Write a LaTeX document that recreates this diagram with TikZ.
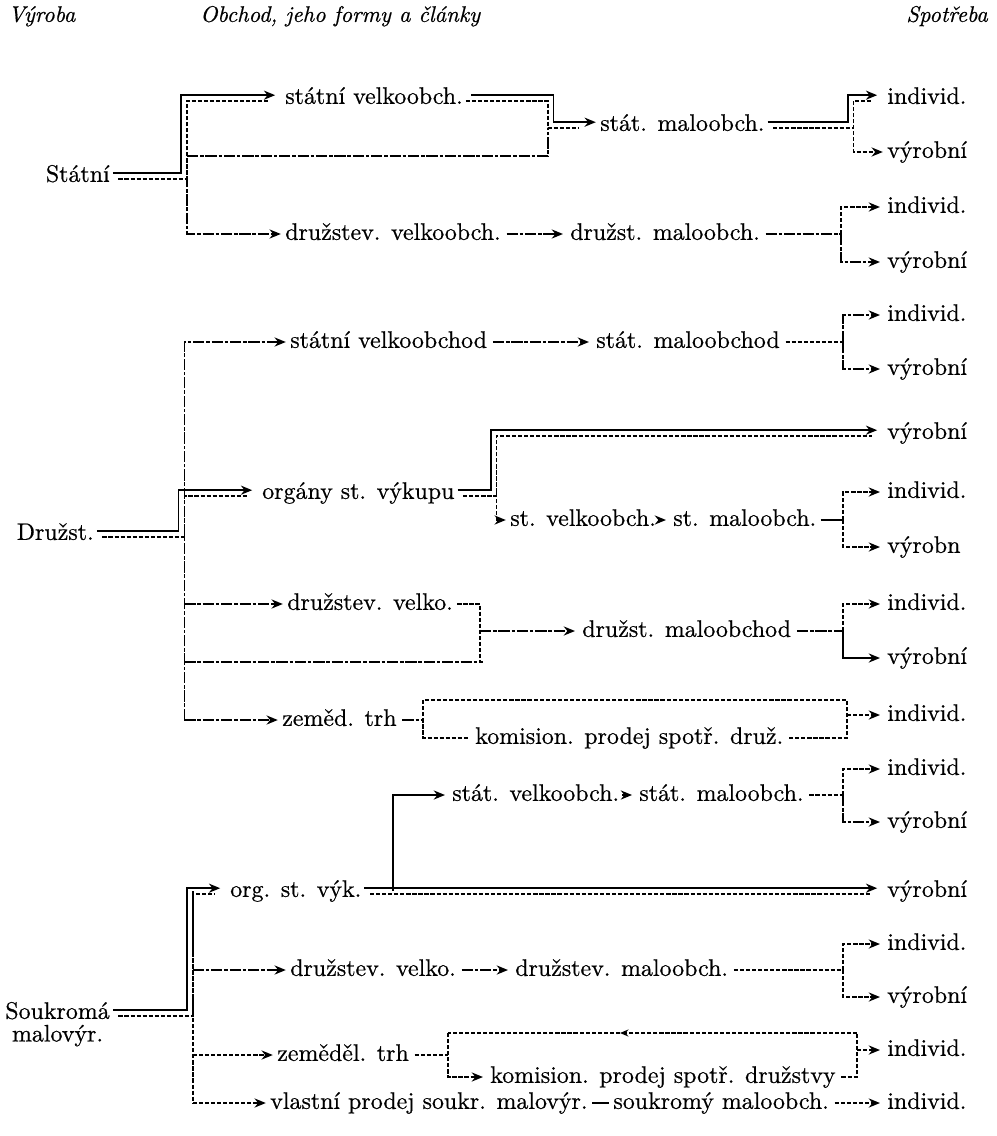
\documentclass[tikz,border=0pt]{standalone}
\usepackage{fontspec}
\usetikzlibrary{positioning,arrows.meta}
\newfontfamily\tiskPismo{lmroman10-regular.otf}[FakeBold=0.6]
\newfontfamily\tiskKurziva{lmroman10-italic.otf}[FakeBold=0.6]

\tikzset{
  txt/.style={inner sep=0pt, anchor=west, text height=12pt, text depth=3.7pt, font=\tiskPismo\fontsize{17}{20}\selectfont},
  hlav/.style={txt, font=\tiskKurziva\fontsize{16}{19}\selectfont},
  plna/.style={line width=1.15pt},
  carky/.style={line width=1.15pt, dash pattern=on 3pt off 1.3pt},
  smes/.style={line width=1.15pt, dash pattern=on 8pt off 1.3pt on 2.5pt off 1.3pt},
  sip/.style={-{Stealth[length=8pt,width=6.5pt]}, shorten >=5pt},
  konecDvoj/.style={shorten >=13pt},
  outerUp/.style={transform canvas={xshift=-2pt,yshift=2pt}},
  innerUp/.style={transform canvas={xshift=2pt,yshift=-2pt}},
  outerDown/.style={transform canvas={xshift=2pt,yshift=2pt}},
  innerDown/.style={transform canvas={xshift=-2pt,yshift=-2pt}},
  innerOnly/.style={transform canvas={xshift=2pt}},
}

\begin{document}
\begin{tikzpicture}[x=0.025cm,y=-0.025cm]
\useasboundingbox (0,0) rectangle (996,1136);
%% headings
\node[hlav] (hVyroba) at (8,16) {Výroba};
\node[hlav] (hObchod) at (200,16) {Obchod, jeho formy a články};
\node[hlav,anchor=east] (hSpotreba) at (988,16) {Spotřeba};

%% consumption column
\node[txt] (spot1) at (887,98) {individ.};
\node[txt] (spot2) at (887,152) {výrobní};
\node[txt] (spot3) at (887,207) {individ.};
\node[txt] (spot4) at (887,262) {výrobní};
\node[txt] (spot5) at (887,315) {individ.};
\node[txt] (spot6) at (887,369) {výrobní};
\node[txt] (spot7) at (887,433) {výrobní};
\node[txt] (spot8) at (887,492) {individ.};
\node[txt] (spot9) at (887,547) {výrobn};
\node[txt] (spot10) at (887,604) {individ.};
\node[txt] (spot11) at (887,658) {výrobní};
\node[txt] (spot12) at (887,715) {individ.};
\node[txt] (spot13) at (887,769) {individ.};
\node[txt] (spot14) at (887,822) {výrobní};
\node[txt] (spot15) at (887,891) {výrobní};
\node[txt] (spot16) at (887,944) {individ.};
\node[txt] (spot17) at (887,997) {výrobní};
\node[txt] (spot18) at (887,1050) {individ.};
\node[txt] (spot19) at (887,1103) {individ.};

%% Statni
\node[txt,anchor=east] (vyrStatni) at (110,176) {Státní};
\node[txt] (stVelko) at (285,98) {státní velkoobch.};
\node[txt] (stMalo) at (600,125) {stát. maloobch.};
\node[txt] (drVelko) at (285,234) {družstev. velkoobch.};
\node[txt] (drMalo) at (570,234) {družst. maloobch.};
\coordinate (xStatni) at (184,0);
\coordinate (xBox) at (550.5,0);
\coordinate (xStRight) at (850.5,0);
\coordinate (xDrRight) at (841,0);
\coordinate (cBypassL) at (187,156);
\coordinate (cBypassT) at (548,128);

%% Druzst
\node[txt,anchor=east] (vyrDruzst) at (94,534) {Družst.};
\node[txt] (stVelkoD) at (290,342) {státní velkoobchod};
\node[txt] (stMaloD) at (596,342) {stát. maloobchod};
\node[txt] (organy) at (262,493) {orgány st. výkupu};
\node[txt] (stVelkoK) at (510,520) {st. velkoobch.};
\node[txt,right=12pt of stVelkoK] (stMaloK) {st. maloobch.};
\node[txt] (drVelkoD) at (287,604) {družstev. velko.};
\node[txt] (drMaloD) at (582,631) {družst. maloobchod};
\node[txt] (zemTrh) at (282,720) {zeměd. trh};
\node[txt] (komis) at (475,738) {komision. prodej spotř. druž.};
\coordinate (xDruzst) at (181.5,0);
\coordinate (xOrgany) at (493.5,0);
\coordinate (xRight) at (843,0);
\coordinate (cDrDole) at (480,662);
\coordinate (cZemL) at (423,700);
\coordinate (cZemR) at (847,700);

%% Soukroma
\node[txt,anchor=east] (vyrSoukr) at (110,1013) {Soukromá};
\node[txt,anchor=north] (vyrSoukrB) at (vyrSoukr.south) {malovýr.};
\node[txt] (orgS) at (230,891) {org. st. výk.};
\node[txt] (stVelkoS) at (452,795) {stát. velkoobch.};
\node[txt,right=14pt of stVelkoS] (stMaloS) {stát. maloobch.};
\node[txt] (drVelkoS) at (290,970) {družstev. velko.};
\node[txt] (drMaloS) at (515,970) {družstev. maloobch.};
\node[txt] (zemTrhS) at (277,1055) {zeměděl. trh};
\node[txt] (komisS) at (490,1077) {komision. prodej spotř. družstvy};
\node[txt] (vlastni) at (270,1103) {vlastní prodej soukr. malovýr.};
\node[txt,right=18pt of vlastni] (soukMalo) {soukromý maloobch.};
\coordinate (xSoukr) at (190,0);
\coordinate (xOrgS) at (393,0);
\coordinate (cZem3L) at (448,1033);
\coordinate (cZem3R) at (857,1033);
\coordinate (cZem3Sip) at (620,1033);

%% lines - Statni
\draw[plna,outerUp,sip,shorten <=4pt] (vyrStatni.east) -| (xStatni |- stVelko) -- (stVelko.west);
\draw[carky,innerUp,konecDvoj,shorten <=4pt] (vyrStatni.east) -| (xStatni |- stVelko) -- (stVelko.west);
\draw[smes,innerOnly,sip] (xStatni |- vyrStatni) |- (drVelko.west);
\draw[smes] (cBypassL) -| (cBypassT);
\draw[plna,outerDown,sip,shorten <=4pt] (stVelko.east) -| (xBox |- stMalo) -- (stMalo.west);
\draw[carky,innerDown,konecDvoj,shorten <=4pt] (stVelko.east) -| (xBox |- stMalo) -- (stMalo.west);
\draw[plna,outerUp,sip,shorten <=4pt] (stMalo.east) -| (xStRight |- spot1) -- (spot1.west);
\draw[carky,innerUp,konecDvoj,shorten <=4pt] (stMalo.east) -| (xStRight |- spot1) -- (spot1.west);
\draw[carky,innerOnly,sip] (xStRight |- stMalo) |- (spot2.west);
\draw[smes,sip,shorten <=4pt] (drVelko) -- (drMalo);
\draw[smes,shorten <=4pt] (drMalo.east) -- (xDrRight |- drMalo);
\draw[carky,sip] (xDrRight |- drMalo) |- (spot3.west);
\draw[smes,sip] (xDrRight |- drMalo) |- (spot4.west);

%% lines - Druzst
\draw[plna,outerUp,sip,shorten <=4pt] (vyrDruzst.east) -| (xDruzst |- organy) -- (organy.west);
\draw[carky,innerUp,konecDvoj,shorten <=4pt] (vyrDruzst.east) -| (xDruzst |- organy) -- (organy.west);
\draw[smes,innerOnly,sip] (xDruzst |- zemTrh) |- (stVelkoD.west);
\draw[smes,innerOnly,sip] (xDruzst |- drVelkoD) -- (drVelkoD.west);
\draw[smes,innerOnly,sip] (xDruzst |- zemTrh) -- (zemTrh.west);
\draw[smes,innerOnly] (xDruzst |- cDrDole) -- (cDrDole);
\draw[smes,sip,shorten <=4pt] (stVelkoD) -- (stMaloD);
\draw[carky,shorten <=4pt] (stMaloD.east) -- (xRight |- stMaloD);
\draw[smes,sip] (xRight |- stMaloD) |- (spot5.west);
\draw[smes,sip] (xRight |- stMaloD) |- (spot6.west);
\draw[plna,outerUp,sip,shorten <=4pt] (organy.east) -| (xOrgany |- spot7) -- (spot7.west);
\draw[carky,innerUp,konecDvoj,shorten <=4pt] (organy.east) -| (xOrgany |- spot7) -- (spot7.west);
\draw[carky,innerOnly,sip] (xOrgany |- organy) |- (stVelkoK.west);
\draw[plna,sip,shorten <=2pt] (stVelkoK) -- (stMaloK);
\draw[plna,shorten <=3pt] (stMaloK.east) -- (xRight |- stMaloK);
\draw[carky,sip] (xRight |- stMaloK) |- (spot8.west);
\draw[carky,sip] (xRight |- stMaloK) |- (spot9.west);
\draw[carky,shorten <=3pt] (drVelkoD.east) -| (cDrDole);
\draw[smes,sip] (cDrDole |- drMaloD) -- (drMaloD.west);
\draw[smes,shorten <=4pt] (drMaloD.east) -- (xRight |- drMaloD);
\draw[carky,sip] (xRight |- drMaloD) |- (spot10.west);
\draw[plna,sip] (xRight |- drMaloD) |- (spot11.west);
\draw[smes,shorten <=4pt] (zemTrh.east) -- (cZemL |- zemTrh);
\draw[carky,shorten <=4pt,shorten >=4pt] (komis.east) -| (cZemR) -- (cZemL) |- (komis.west);
\draw[carky,sip] (cZemR |- spot12) -- (spot12.west);

%% lines - Soukroma
\draw[plna,outerUp,sip,shorten <=4pt] (vyrSoukr.east) -| (xSoukr |- orgS) -- (orgS.west);
\draw[carky,innerUp,konecDvoj,shorten <=4pt] (vyrSoukr.east) -| (xSoukr |- orgS) -- (orgS.west);
\draw[carky,innerOnly] (xSoukr |- orgS) -- (xSoukr |- vlastni);
\draw[smes,innerOnly,sip] (xSoukr |- drVelkoS) -- (drVelkoS.west);
\draw[carky,innerOnly,sip] (xSoukr |- zemTrhS) -- (zemTrhS.west);
\draw[carky,innerOnly,sip] (xSoukr |- vlastni) -- (vlastni.west);
\draw[plna,outerUp,sip,shorten <=4pt] (orgS.east) -- (spot15.west);
\draw[carky,innerUp,konecDvoj,shorten <=4pt] (orgS.east) -- (spot15.west);
\draw[plna,sip] (xOrgS |- orgS) |- (stVelkoS.west);
\draw[plna,sip,shorten <=2pt] (stVelkoS) -- (stMaloS);
\draw[carky,shorten <=4pt] (stMaloS.east) -- (xRight |- stMaloS);
\draw[carky,sip] (xRight |- stMaloS) |- (spot13.west);
\draw[smes,sip] (xRight |- stMaloS) |- (spot14.west);
\draw[smes,sip,shorten <=4pt] (drVelkoS) -- (drMaloS);
\draw[carky,shorten <=4pt] (drMaloS.east) -- (xRight |- drMaloS);
\draw[carky,sip] (xRight |- drMaloS) |- (spot16.west);
\draw[carky,sip] (xRight |- drMaloS) |- (spot17.west);
\draw[carky,shorten <=4pt] (zemTrhS.east) -- (cZem3L |- zemTrhS);
\draw[carky,sip] (cZem3L) |- (komisS.west);
\draw[carky,shorten <=4pt] (komisS.east) -| (cZem3R);
\draw[carky,-{Stealth[length=6pt,width=5pt]}] (cZem3R) -- (cZem3Sip);
\draw[carky] (cZem3Sip) -- (cZem3L);
\draw[carky,sip] (cZem3R |- spot18) -- (spot18.west);
\draw[plna,shorten <=3pt,shorten >=3pt] (vlastni) -- (soukMalo);
\draw[carky,sip,shorten <=4pt] (soukMalo) -- (spot19);
\end{tikzpicture}
\end{document}
